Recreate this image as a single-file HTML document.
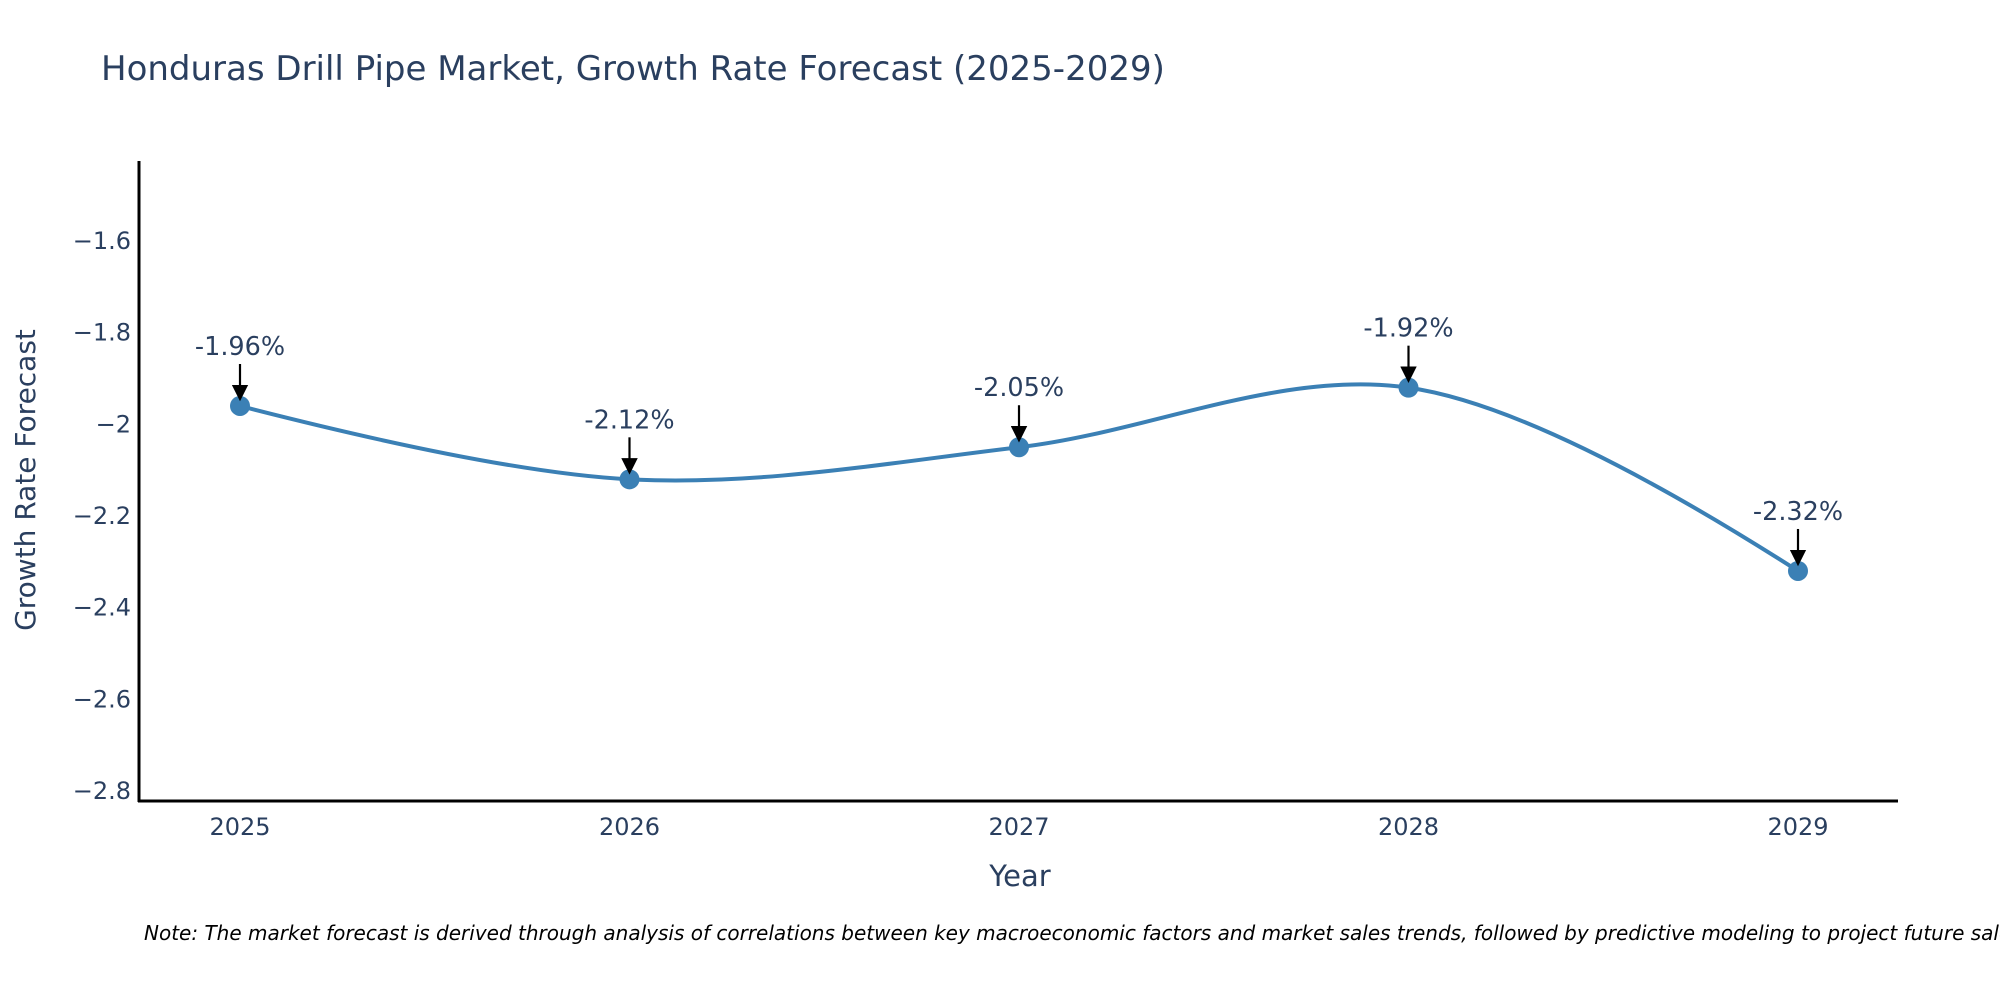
<!DOCTYPE html>
<html><head><meta charset="utf-8"><style>
html,body{margin:0;padding:0;background:#fff;}
svg{display:block;font-family:"DejaVu Sans","Liberation Sans",sans-serif;}
</style></head><body>
<svg id="chart" width="2000" height="1000" viewBox="0 0 2000 1000">
<defs><marker id="ah" viewBox="0 0 10 10" refX="8" refY="5" markerWidth="7.5" markerHeight="7.5" orient="auto"><path d="M0,0 L10,5 L0,10 z" fill="#000"/></marker></defs>
<text x="101" y="80" font-size="34" fill="#2a3f5f">Honduras Drill Pipe Market, Growth Rate Forecast (2025-2029)</text>
<g id="yticks"></g>
<g id="xticks"></g>
<line x1="139" y1="161" x2="139" y2="802" stroke="#000" stroke-width="3"/>
<line x1="138" y1="801" x2="1898" y2="801" stroke="#000" stroke-width="3"/>
<text transform="translate(35,480) rotate(-90)" text-anchor="middle" font-size="28" fill="#2a3f5f">Growth Rate Forecast</text>
<text x="1020" y="886" text-anchor="middle" font-size="29" fill="#2a3f5f">Year</text>
<text x="144" y="940" font-size="20" font-style="italic" fill="#000">Note: The market forecast is derived through analysis of correlations between key macroeconomic factors and market sales trends, followed by predictive modeling to project future sales.</text>
<g id="series"></g>
</svg>
<script>
const years = [2025, 2026, 2027, 2028, 2029];
const values = [-1.96, -2.12, -2.05, -1.92, -2.32];
const labels = ["-1.96%", "-2.12%", "-2.05%", "-1.92%", "-2.32%"];
const yTickValues = [-1.6, -1.8, -2, -2.2, -2.4, -2.6, -2.8];
const yTickLabels = ["\u22121.6", "\u22121.8", "\u22122", "\u22122.2", "\u22122.4", "\u22122.6", "\u22122.8"];

const NS = "http://www.w3.org/2000/svg";
function xScale(v){ return 240 + (v - 2025) * 389.5; }
function yScale(v){ return 241 + (-1.6 - v) * 458.3; }
function mk(tag, attrs, parent){ const e = document.createElementNS(NS, tag); for (const k in attrs) e.setAttribute(k, attrs[k]); parent.appendChild(e); return e; }

const yt = document.getElementById('yticks');
yTickValues.forEach((v, i) => {
  const t = mk('text', {x: 131, y: yScale(v) + 8, 'text-anchor': 'end', 'font-size': 24, fill: '#2a3f5f'}, yt);
  
  
  t.textContent = yTickLabels[i];
});
const xt = document.getElementById('xticks');
years.forEach(y => {
  const t = mk('text', {x: xScale(y), y: 835, 'text-anchor': 'middle', 'font-size': 24, fill: '#2a3f5f'}, xt);
  
  
  t.textContent = String(y);
});

const pts = years.map((y, i) => [xScale(y), yScale(values[i])]);
function tangent(p, c, n, s){
  const d1x = p[0]-c[0], d1y = p[1]-c[1], d2x = n[0]-c[0], d2y = n[1]-c[1];
  const d1a = Math.pow(d1x*d1x + d1y*d1y, 0.25), d2a = Math.pow(d2x*d2x + d2y*d2y, 0.25);
  const nx = (d2a*d2a*d1x - d1a*d1a*d2x)*s, ny = (d2a*d2a*d1y - d1a*d1a*d2y)*s;
  const den1 = 3*d2a*(d1a+d2a), den2 = 3*d1a*(d1a+d2a);
  return [[c[0] + nx/den1, c[1] + ny/den1], [c[0] - nx/den2, c[1] - ny/den2]];
}
const tg = [];
for (let i = 1; i < pts.length - 1; i++) tg.push(tangent(pts[i-1], pts[i], pts[i+1], 1));
let d = `M${pts[0]}Q${tg[0][0]} ${pts[1]}`;
for (let i = 2; i < pts.length - 1; i++) d += `C${tg[i-2][1]} ${tg[i-1][0]} ${pts[i]}`;
d += `Q${tg[tg.length-1][1]} ${pts[pts.length-1]}`;
const g = document.getElementById('series');
const line = mk('path', {d: d, fill: 'none', stroke: '#3b80b5', 'stroke-width': 4}, g);


pts.forEach((p, i) => {
  const c = mk('circle', {cx: p[0], cy: p[1], r: 10, fill: '#3b80b5'}, g);
  
  
  const a = mk('line', {x1: p[0], y1: p[1] - 42, x2: p[0], y2: p[1] - 8, stroke: '#000', 'stroke-width': 2.2, 'marker-end': 'url(#ah)'}, g);
  
  
  const t = mk('text', {x: p[0], y: p[1] - 51, 'text-anchor': 'middle', 'font-size': 25.5, fill: '#2a3f5f'}, g);
  
  
  t.textContent = labels[i];
});
</script>
</body></html>
